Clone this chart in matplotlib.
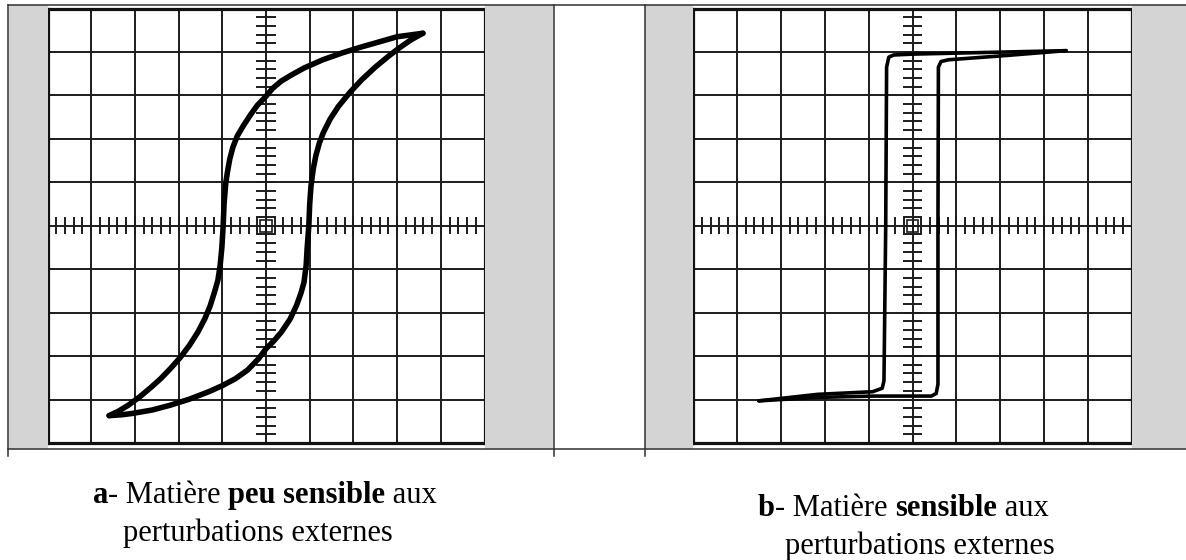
import matplotlib
matplotlib.use('Agg')
from matplotlib import pyplot as plt
from matplotlib.patches import Rectangle
from matplotlib.lines import Line2D
import numpy as np

# cycle (a): branche descendante / ascendante, en divisions de l'ecran
a_desc_x = [3.59, 3.0, 2.62, 2.2, 1.75, 1.3, 0.87, 0.6, 0.35, 0.15, 0.0, -0.2, -0.35,
            -0.52, -0.66, -0.76, -0.83, -0.88, -0.92, -0.96, -0.98, -1.01, -1.05,
            -1.10, -1.18, -1.28, -1.40, -1.56, -1.75, -1.96, -2.19, -2.40, -2.62,
            -2.88, -3.15, -3.38, -3.59]
a_desc_y = [4.43, 4.35, 4.24, 4.12, 3.98, 3.82, 3.63, 3.48, 3.33, 3.16, 2.98, 2.77, 2.56,
            2.30, 2.06, 1.80, 1.53, 1.25, 0.99, 0.5, 0.0, -0.5, -0.92,
            -1.25, -1.53, -1.85, -2.14, -2.45, -2.75, -3.03, -3.29, -3.51, -3.71,
            -3.93, -4.13, -4.27, -4.37]
a_asc_x = [-3.59, -3.3, -3.06, -2.6, -2.19, -1.75, -1.31, -1.0, -0.70, -0.42, -0.17,
           0.0, 0.18, 0.35, 0.55, 0.70, 0.80, 0.87, 0.92, 0.94, 0.98, 1.0, 1.03,
           1.08, 1.14, 1.22, 1.31, 1.47, 1.66, 1.92, 2.19, 2.50, 2.80, 3.06, 3.32, 3.59]
a_asc_y = [-4.37, -4.35, -4.32, -4.24, -4.13, -3.99, -3.82, -3.68, -3.52, -3.32, -3.06,
           -2.83, -2.65, -2.45, -2.15, -1.83, -1.55, -1.30, -0.9, -0.54, 0.0, 0.5, 0.92,
           1.3, 1.61, 1.9, 2.14, 2.46, 2.75, 3.07, 3.36, 3.65, 3.90, 4.10, 4.28, 4.43]

# cycle (b): quasi rectangulaire
b_desc_x = [3.50, 1.30, 0.0, -0.43, -0.54, -0.59, -0.61, -0.65, -0.69, -0.91, -2.16, -3.50]
b_desc_y = [4.03, 3.98, 3.95, 3.93, 3.88, 3.65, 0.0, -3.57, -3.74, -3.82, -3.88, -4.03]
b_asc_x = [-3.50, -2.16, -0.87, 0.43, 0.54, 0.58, 0.58, 0.59, 0.65, 0.82, 2.16, 3.50]
b_asc_y = [-4.03, -3.95, -3.92, -3.92, -3.86, -3.65, 0.0, 3.65, 3.78, 3.82, 3.92, 4.03]

captions = [
    [('a', 'bold'), ('- Matière ', 'normal'), ('peu sensible', 'bold'), (' aux', 'normal')],
    [('b', 'bold'), ('- Matière ', 'normal'), ('sensible', 'bold'), (' aux', 'normal')],
]
caption_line2 = 'perturbations externes'

W, H = 1186, 560
GREY = '#d4d4d4'
INK = '#1c1c1c'

fig = plt.figure(figsize=(W / 100, H / 100), dpi=100)


def fx(px):
    return px / W


def fy(py):
    return 1 - py / H


# fonds gris de part et d'autre des ecrans
for x0, x1 in [(9, 48), (485, 553), (645, 693), (1132, 1186)]:
    fig.patches.append(Rectangle((fx(x0), fy(449)), fx(x1 - x0), (449 - 5) / H,
                                 transform=fig.transFigure, facecolor=GREY,
                                 edgecolor='none', zorder=0))

# traits du tableau
tbl = dict(color='#303030', lw=1.1, transform=fig.transFigure)
fig.lines.append(Line2D([fx(8), 1], [fy(5), fy(5)], **tbl))
fig.lines.append(Line2D([fx(8), 1], [fy(449), fy(449)], **tbl))
for xp in [8, 553.5, 644.5]:
    fig.lines.append(Line2D([fx(xp), fx(xp)], [fy(5), fy(456)], **tbl))


def screen(ax, xs_list, ys_list, lw):
    ax.set_xlim(-5, 5)
    ax.set_ylim(-5, 5)
    ax.set_xticks([])
    ax.set_yticks([])
    for s in ax.spines.values():
        s.set_linewidth(2.3)
        s.set_color('#111111')
    for k in range(-4, 5):
        ax.axvline(k, color=INK, lw=1.4, zorder=1)
        ax.axhline(k, color=INK, lw=1.4, zorder=1)
    # graduations des axes centraux
    t = np.arange(-24, 25) * 0.2
    ax.vlines(t, -0.2, 0.2, color=INK, lw=1.4, zorder=1)
    ax.hlines(t, -0.22, 0.22, color=INK, lw=1.4, zorder=1)
    ax.add_patch(Rectangle((-0.13, -0.14), 0.26, 0.28, fill=False,
                           edgecolor=INK, lw=1.2, zorder=1))
    for xs, ys in zip(xs_list, ys_list):
        ax.plot(xs, ys, color='black', lw=lw, solid_capstyle='round',
                solid_joinstyle='round', zorder=3)


ax_a = fig.add_axes([fx(47.5), fy(443), fx(437), 434.5 / H])
screen(ax_a, [a_desc_x, a_asc_x], [a_desc_y, a_asc_y], 4.0)

ax_b = fig.add_axes([fx(693), fy(443), fx(439), 434.5 / H])
screen(ax_b, [b_desc_x, b_asc_x], [b_desc_y, b_asc_y], 2.6)

# legendes sous les ecrans
font = dict(family='Liberation Serif', size=22)
fig.canvas.draw()
renderer = fig.canvas.get_renderer()


def rich_line(parts, cx, py):
    texts = [fig.text(0, fy(py), s, fontweight=w, va='baseline', ha='left', **font)
             for s, w in parts]
    widths = [t.get_window_extent(renderer).width for t in texts]
    x = cx - sum(widths) / 2
    for t, w in zip(texts, widths):
        t.set_x(fx(x))
        x += w


rich_line(captions[0], 265, 503)
fig.text(fx(258), fy(541), caption_line2, ha='center', va='baseline', **font)
rich_line(captions[1], 903, 516)
fig.text(fx(920), fy(554), caption_line2, ha='center', va='baseline', **font)

fig.savefig('out.png', dpi=100)
